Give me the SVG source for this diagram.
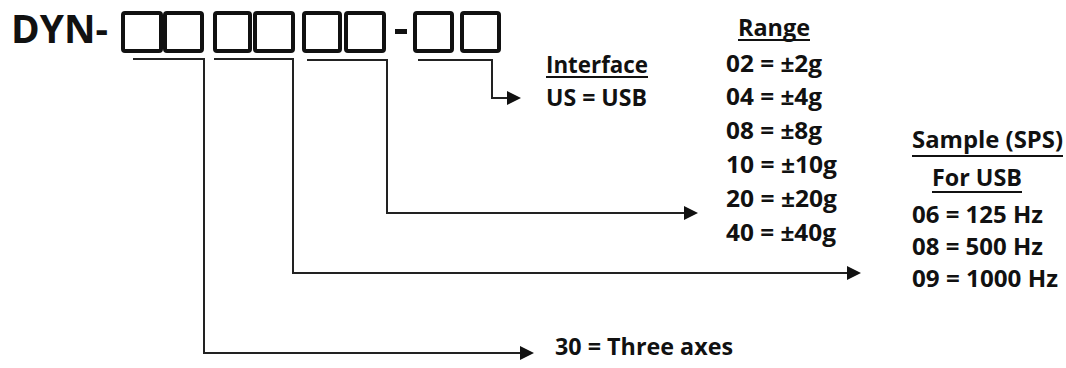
<svg xmlns="http://www.w3.org/2000/svg" width="1066" height="368" viewBox="0 0 1066 368">
<style>
.t{font-family:"Open Sans","Liberation Sans",sans-serif;font-weight:700;font-size:22.5px;fill:#111}
.big{font-size:39px}
.box{fill:none;stroke:#111;stroke-width:4}
.ul{stroke:#111;stroke-width:2}
.c{fill:none;stroke:#222;stroke-width:2}
</style>
<defs>
<marker id="ah" markerWidth="14" markerHeight="14" refX="1" refY="7" orient="auto" markerUnits="userSpaceOnUse">
<path d="M0,0 L14,7 L0,14 Z" fill="#111"/>
</marker>
</defs>
<g id="code">
<text class="t big" x="11" y="43" textLength="97" lengthAdjust="spacingAndGlyphs">DYN-</text>
<rect class="box" x="123" y="13" width="38" height="38" rx="2"/>
<rect class="box" x="165" y="13" width="37" height="38" rx="2"/>
<rect class="box" x="215" y="13" width="35" height="38" rx="2"/>
<rect class="box" x="255" y="13" width="38" height="38" rx="2"/>
<rect class="box" x="304" y="13" width="36" height="38" rx="2"/>
<rect class="box" x="346" y="13" width="38" height="38" rx="2"/>
<rect x="395" y="29" width="12" height="5" fill="#111"/>
<rect class="box" x="415" y="13" width="37" height="38" rx="2"/>
<rect class="box" x="462" y="13" width="37" height="38" rx="2"/>
</g>
<g id="connectors">
<path class="c" d="M133,59 H204 V353 H521" marker-end="url(#ah)"/>
<path class="c" d="M214,59 H293 V273 H848" marker-end="url(#ah)"/>
<path class="c" d="M307,60 H387 V213 H685" marker-end="url(#ah)"/>
<path class="c" d="M418,60 H492 V98 H508" marker-end="url(#ah)"/>
</g>
<g id="interface">
<text class="t" x="546" y="73" textLength="102" lengthAdjust="spacingAndGlyphs">Interface</text>
<line class="ul" x1="546" y1="77" x2="648" y2="77"/>
<text class="t" x="546" y="106" textLength="101" lengthAdjust="spacingAndGlyphs">US = USB</text>
</g>
<g id="range">
<text class="t" x="738" y="36" textLength="72" lengthAdjust="spacingAndGlyphs">Range</text>
<line class="ul" x1="738" y1="40" x2="810" y2="40"/>
<text class="t" x="726" y="72" textLength="96" lengthAdjust="spacingAndGlyphs">02 = ±2g</text>
<text class="t" x="726" y="105" textLength="96" lengthAdjust="spacingAndGlyphs">04 = ±4g</text>
<text class="t" x="726" y="139" textLength="96" lengthAdjust="spacingAndGlyphs">08 = ±8g</text>
<text class="t" x="726" y="173" textLength="111" lengthAdjust="spacingAndGlyphs">10 = ±10g</text>
<text class="t" x="726" y="207" textLength="111" lengthAdjust="spacingAndGlyphs">20 = ±20g</text>
<text class="t" x="726" y="241" textLength="110" lengthAdjust="spacingAndGlyphs">40 = ±40g</text>
</g>
<g id="sample">
<text class="t" x="912" y="148" textLength="151" lengthAdjust="spacingAndGlyphs">Sample (SPS)</text>
<line class="ul" x1="912" y1="156" x2="1063" y2="156"/>
<text class="t" x="932" y="186" textLength="90" lengthAdjust="spacingAndGlyphs">For USB</text>
<line class="ul" x1="932" y1="192" x2="1022" y2="192"/>
<text class="t" x="912" y="223" textLength="131" lengthAdjust="spacingAndGlyphs">06 = 125 Hz</text>
<text class="t" x="912" y="255" textLength="131" lengthAdjust="spacingAndGlyphs">08 = 500 Hz</text>
<text class="t" x="912" y="287" textLength="146" lengthAdjust="spacingAndGlyphs">09 = 1000 Hz</text>
</g>
<g id="axes">
<text class="t" x="555" y="355" textLength="178" lengthAdjust="spacingAndGlyphs">30 = Three axes</text>
</g>
</svg>
